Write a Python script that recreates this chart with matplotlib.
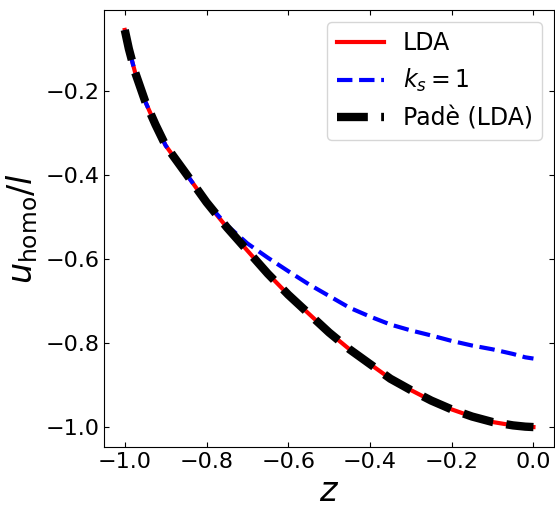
import numpy as np
import matplotlib.pyplot as plt

# values
z = [-1.0, -0.99, -0.975, -0.95, -0.925, -0.9, -0.85, -0.8, -0.75, -0.7,
     -0.65, -0.6, -0.55, -0.5, -0.45, -0.4, -0.35, -0.3, -0.25, -0.2,
     -0.15, -0.1, -0.05, -0.02, 0.0]
u_lda = [-0.055, -0.10, -0.155, -0.225, -0.28, -0.33, -0.397, -0.465, -0.525, -0.58,
         -0.635, -0.685, -0.73, -0.775, -0.815, -0.85, -0.885, -0.912, -0.937, -0.958,
         -0.975, -0.988, -0.996, -0.999, -1.0]
u_ks1 = [-0.055, -0.10, -0.155, -0.225, -0.28, -0.33, -0.397, -0.465, -0.52, -0.563,
         -0.597, -0.629, -0.66, -0.688, -0.716, -0.737, -0.756, -0.770, -0.782, -0.795,
         -0.806, -0.815, -0.826, -0.834, -0.837]
u_pade = [-0.055, -0.10, -0.155, -0.225, -0.28, -0.33, -0.397, -0.465, -0.525, -0.58,
          -0.635, -0.685, -0.73, -0.775, -0.815, -0.85, -0.885, -0.912, -0.937, -0.958,
          -0.975, -0.988, -0.996, -0.999, -1.0]

fig = plt.figure(figsize=(5.55, 5.05), dpi=100)
ax = fig.add_axes([0.188, 0.115, 0.81, 0.865])

ax.plot(z, u_lda, color='red', lw=3, label='LDA')
ax.plot(z, u_ks1, color='blue', lw=3, ls='--', label=r'$k_s=1$')
ax.plot(z, u_pade, color='black', lw=6, ls='--', label='Padè (LDA)')

ax.set_xlabel(r'$z$', fontsize=24, labelpad=2)
ax.set_ylabel(r'$u_{\rm homo}/l$', fontsize=24)
ax.set_xticks([-1.0, -0.8, -0.6, -0.4, -0.2, 0.0])
ax.set_yticks([-1.0, -0.8, -0.6, -0.4, -0.2])
ax.tick_params(direction='in', top=True, right=True, labelsize=16)
ax.legend(loc='upper right', fontsize=17)

plt.savefig('out.png', dpi=100)
